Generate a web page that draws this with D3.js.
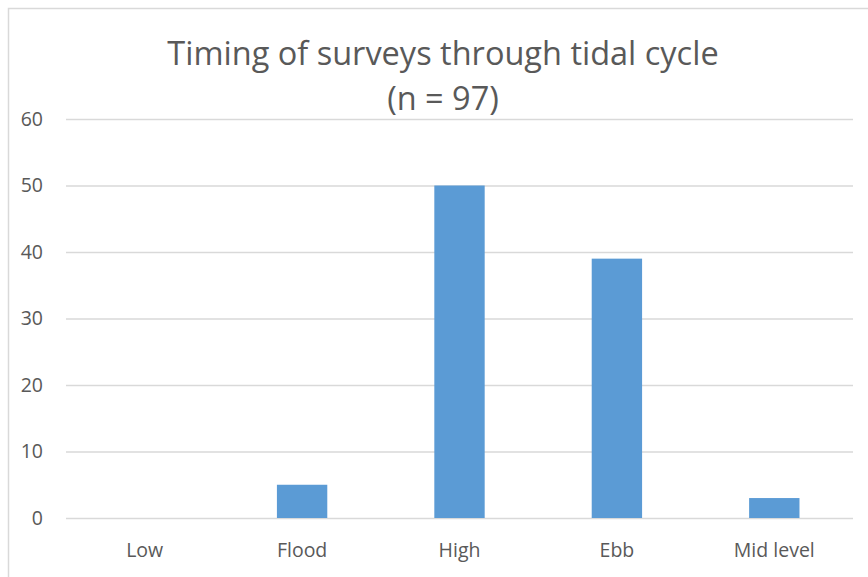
<!DOCTYPE html>
<html>
<head>
<meta charset="utf-8">
<script src="https://cdn.jsdelivr.net/npm/d3@7"></script>
<style>
  html, body { margin: 0; padding: 0; background: #fff; }
  svg { display: block; }
  text { font-family: "Open Sans", "Noto Sans", sans-serif; fill: #595959; }
</style>
</head>
<body>
<svg id="chart" width="868" height="577"></svg>
<script>
// Survey counts per tidal stage
const categories = ["Low", "Flood", "High", "Ebb", "Mid level"];
const counts = [0, 5, 50, 39, 3];
const yTicks = [0, 10, 20, 30, 40, 50, 60];
const titleLines = ["Timing of surveys through tidal cycle", "(n = 97)"];

const W = 868, H = 577;
const margin = { top: 119, right: 15, bottom: 59, left: 66 };

const svg = d3.select("#chart");

// chart area frame
svg.append("rect")
  .attr("x", 8.5).attr("y", 8.5)
  .attr("width", W + 10).attr("height", H + 10)
  .attr("fill", "#fff")
  .attr("stroke", "#d9d9d9").attr("stroke-width", 1.5);

const x = d3.scaleBand()
  .domain(categories)
  .range([margin.left, W - margin.right])
  .paddingInner(0.68).paddingOuter(0.34);

const y = d3.scaleLinear()
  .domain([0, 60])
  .range([H - margin.bottom, margin.top]);

// gridlines + y labels
const yAxis = d3.axisLeft(y)
  .tickValues(yTicks)
  .tickSize(-(W - margin.right - margin.left))
  .tickPadding(23);
const gy = svg.append("g")
  .attr("transform", `translate(${margin.left},0)`)
  .call(yAxis);
gy.select(".domain").remove();
gy.selectAll(".tick line").attr("stroke", "#d9d9d9").attr("stroke-width", 1.5);
gy.selectAll(".tick text")
  .style("font-size", "19.5px").attr("fill", "#595959");

// bars
svg.append("g").selectAll("rect")
  .data(categories.map((c, i) => ({ c, v: counts[i] })))
  .join("rect")
  .attr("x", d => x(d.c))
  .attr("width", x.bandwidth())
  .attr("y", d => y(d.v))
  .attr("height", d => y(0) - y(d.v))
  .attr("fill", "#5b9bd5");

// category labels
const xAxis = d3.axisBottom(x).tickSize(0).tickPadding(25);
const gx = svg.append("g")
  .attr("transform", `translate(0,${y(0)})`)
  .call(xAxis);
gx.select(".domain").remove();
gx.selectAll(".tick text")
  .style("font-size", "19.5px").attr("fill", "#595959");

// title
svg.append("g").selectAll("text")
  .data(titleLines)
  .join("text")
  .attr("x", 443)
  .attr("y", (d, i) => 65 + i * 45)
  .attr("text-anchor", "middle")
  .style("font-size", "32.5px")
  .text(d => d);
</script>
</body>
</html>
